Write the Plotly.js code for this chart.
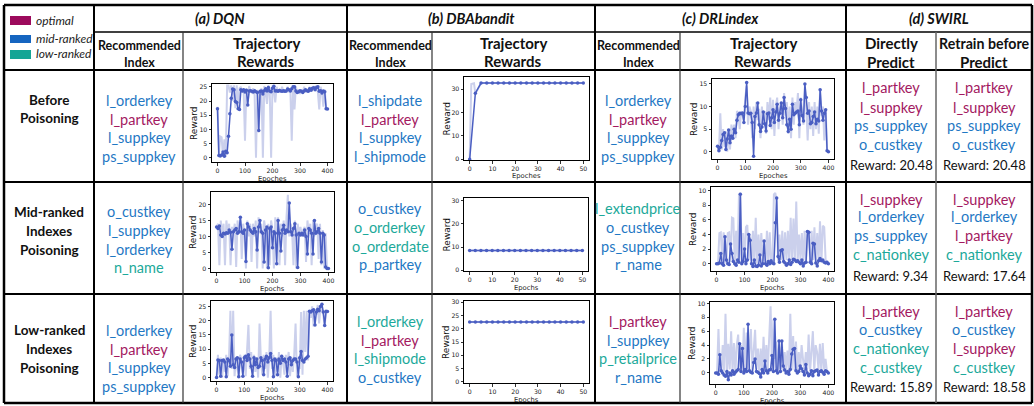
<!DOCTYPE html>
<html>
<head>
<meta charset="utf-8">
<script src="https://cdn.plot.ly/plotly-3.0.1.min.js"></script>
<style>
  html, body { margin: 0; padding: 0; background: #fff; }
  #chart { width: 1034px; height: 406px; }
</style>
</head>
<body>
<div id="chart"></div>
<script>
// ---------- reward trajectories ----------
const epochs = [0,5,10,15,20,25,30,35,40,45,50,55,60,65,70,75,80,85,90,95,100,105,110,115,120,125,130,135,140,145,150,155,160,165,170,175,180,185,190,195,200,205,210,215,220,225,230,235,240,245,250,255,260,265,270,275,280,285,290,295,300,305,310,315,320,325,330,335,340,345,350,355,360,365,370,375,380,385,390,395,400];
const banditEpochs = [0,2.5,5,7.5,10,12.5,15,17.5,20,22.5,25,27.5,30,32.5,35,37.5,40,42.5,45,47.5,50];

// DQN
const dqnBeforeSmooth = [17.3,0.8,0.6,1.0,2.0,0.5,2.3,1.8,7.6,15.5,
  21.0,24.2,24.0,19.8,19.5,17.3,17.0,24.0,23.5,24.0,
  23.2,23.8,18.6,23.5,23.6,23.4,23.2,23.6,23.3,23.0,
  9.6,23.4,23.5,22.5,23.6,24.3,23.5,24.8,23.5,23.3,
  24.5,25.2,23.5,23.6,23.4,23.7,23.5,23.4,23.6,23.4,
  23.5,24.2,24.0,23.5,24.3,25.0,25.0,23.5,23.0,23.3,
  23.6,23.4,23.0,23.5,24.0,23.6,23.4,24.3,23.8,24.5,
  24.7,24.0,24.8,25.0,23.4,23.6,22.8,23.5,23.3,17.3,
  17.2];
const dqnBeforeRaw = [18,1,7.5,7.2,0.3,6.5,0.5,25.5,25.5,23,
  25.5,20,25.5,17.5,25.5,17,24.5,25,23,24,
  6,24.5,19.5,25.3,23.5,23,24.5,22,0,24,
  9,23,24.5,0,25.3,23,19,25.5,23,0,
  25.5,24,19.5,25,23,24,23.5,25,23,24,
  23,25,23.5,24,6,25.5,17,25,23,24,
  22.5,24,23,25,23.5,24,23,25,24,23.5,
  25.3,24,25.5,23,17,25,23,18,24,17.5,
  17];
const dqnMidSmooth = [13.0,12.5,13.3,10.5,10.0,11.0,10.8,11.2,11.0,12.0,
  11.3,6.0,11.5,12.0,12.5,11.0,11.5,16.0,11.5,11.0,
  12.0,2.2,14.0,13.0,12.0,11.5,11.0,12.5,11.5,5.8,
  13.0,15.0,11.5,11.0,2.0,12.0,13.0,0.2,12.5,13.0,
  6.5,11.5,11.0,1.5,15.0,11.0,5.5,12.0,13.5,11.0,
  12.0,11.5,20.5,11.5,10.5,12.5,14.0,10.5,0.3,11.0,
  10.5,11.0,10.5,12.0,10.0,4.5,12.5,12.0,11.0,4.5,
  15.0,11.0,11.5,12.5,11.0,2.0,11.0,10.5,0.5,0.0,
  0.0];
const dqnMidRaw = [13,14,1,15,10,14,1,15,11,14,
  1,13,11,14,0.5,15,11,16,3,14,
  11,0,15,10,14,2,14,10,15,0,
  16,11,14,0,15,12,0,14,1,15,
  12,0,16,11,16,1,14,10,15,1,
  16,23,10,14,12,1,15,0,14,11,
  13,10,12,13,2,15,11,14,1,15,
  10,13,14,3,14,1,12,0,11,0,
  0];
const dqnLowSmooth = [0.0,6.2,6.0,0.5,6.0,6.2,5.5,0.3,6.5,6.0,
  4.0,15.0,4.5,3.5,6.5,7.0,0.3,6.5,5.5,0.5,
  7.0,7.5,6.0,8.0,6.5,4.0,0.5,7.0,4.5,6.5,
  3.5,4.0,7.0,6.0,1.0,6.5,7.5,5.5,7.0,8.5,
  6.0,0.3,6.5,6.0,1.0,6.5,5.0,7.5,6.0,6.5,
  5.5,0.5,6.5,7.0,4.5,6.0,6.5,6.5,5.5,0.3,
  7.0,9.2,6.0,5.5,6.5,7.0,7.5,23.3,23.0,23.5,
  23.8,18.5,23.0,24.0,23.5,25.0,25.8,23.0,18.3,23.3,
  23.2];
const dqnLowRaw = [0,8,1,7,0,6,2,8,0.5,7,
  23.5,3,23.5,0.5,7,4,0,8,6,1,
  8,0.5,9,18.5,3,9,0.5,8,2,7,
  0,19,6,1,8,3,9,0,7,23.5,
  3,8,0.5,7,2,9,0,8,5,1,
  8,4,9,0.5,7,2,8,19,0.5,7,
  3,23,1,23.5,9,23.5,6,23.5,21,25,
  18,24,22,25.5,19,25,24,22,18,23.5,
  23];

// DBAbandit
const banditBeforeSmooth = [0,28.3,32.6,32.6,32.6,32.6,32.6,32.6,32.6,32.6,32.6,32.6,32.6,32.6,32.6,32.6,32.6,32.6,32.6,32.6,32.6];
const banditBeforeRawEpochs = [0,0.7,1.9,2.5,5,50];
const banditBeforeRaw = [0,32.2,32.5,28,32.6,32.6];
const banditMidSmooth = [8.5,8.5,8.5,8.5,8.5,8.5,8.5,8.5,8.5,8.5,8.5,8.5,8.5,8.5,8.5,8.5,8.5,8.5,8.5,8.5,8.5];
const banditLowSmooth = [22.5,22.5,22.5,22.5,22.5,22.5,22.5,22.5,22.5,22.5,22.5,22.5,22.5,22.5,22.5,22.5,22.5,22.5,22.5,22.5,22.5];

// DRLindex
const drlBeforeSmooth = [1.2,0.2,1.0,2.5,3.8,4.2,0.5,2.8,4.8,2.0,
  3.5,3.0,5.0,4.2,7.0,8.2,8.5,8.4,8.6,6.5,
  10.0,15.3,8.6,8.4,8.5,6.5,-1.0,7.8,8.6,10.8,
  6.0,4.5,5.5,8.8,6.2,4.6,8.4,8.6,5.8,7.5,
  9.3,6.5,8.8,10.5,7.0,8.5,10.8,7.5,12.0,9.6,
  6.0,4.5,7.2,5.0,10.5,8.2,8.5,8.8,9.0,6.0,
  11.5,8.0,6.8,15.0,12.0,8.5,9.0,6.2,6.5,7.8,
  8.8,6.2,7.2,6.8,13.7,9.0,7.0,8.5,9.3,0.2,
  0.0];
const drlBeforeRaw = [1.5,0,8.5,0.5,5,1,4.5,0,5,0.5,
  6,4,6,3,9,8.5,5,9,8,7,
  12,14.5,6,10,9,3,10,5,11,7,
  9.5,3,10,6,9,4,11,7,12,5,
  11.5,3.5,10,12,5,10,11,6,13,8,
  11,4,10,3,12,6,11,9,13,3,
  12,9,6,14.5,10,2.5,11,5,10,3.5,
  11,5,10,4,14,8,10,2.5,9.5,0.5,
  0];
const drlMidSmooth = [0.0,0.0,0.1,1.4,0.0,-0.2,3.7,0.5,0.0,-0.1,
  2.7,1.4,0.3,0.0,-0.2,0.5,0.2,9.5,0.0,0.3,
  2.0,0.0,0.5,4.0,3.2,0.0,-0.4,0.5,-0.3,-0.4,
  -0.2,1.2,-0.3,0.0,3.1,0.0,-0.2,0.3,0.0,0.4,
  0.1,0.0,5.6,9.0,1.0,0.2,1.8,1.9,0.3,0.1,
  -0.2,0.0,0.5,-0.1,0.2,0.6,0.5,0.3,0.4,0.2,
  0.0,0.5,-0.3,0.1,0.2,4.4,4.3,0.2,0.0,2.8,
  2.7,0.1,-0.3,0.4,0.7,0.4,0.5,0.2,0.1,0.2,
  0.0];
const drlMidRaw = [0,0,4.2,4.3,0.5,4.3,3.0,0,4.2,4.3,
  0.2,6.3,6.2,0,4.5,0.5,9.5,9.7,0.3,4.2,
  0.5,5.0,5.3,0.5,4.0,0,4.5,0.2,6.3,0,
  4.0,0.5,4.2,0.3,3.0,0,4.5,0.2,4.3,0,
  0.5,9.5,9.7,8.5,0.3,4.0,0.5,4.5,0,4.3,
  0.5,4.5,0.2,6.3,0.5,6.2,0.5,8.5,0.3,4.0,
  0.5,4.2,0,4.5,0.3,4.0,4.5,0,4.5,0.5,
  5.0,0,4.2,0.5,5.8,0.3,5.2,5.0,0.5,0.2,
  0];
const drlLowSmooth = [0.0,0.0,-0.2,2.6,0.3,0.0,-0.3,-0.5,0.2,-1.0,
  0.0,-0.3,0.3,-0.2,0.1,0.3,0.5,4.2,0.2,3.5,
  0.0,0.5,0.2,7.0,0.3,0.1,0.0,1.5,2.0,0.2,
  0.1,-0.1,-0.6,0.5,0.0,1.7,0.3,0.0,0.4,0.5,
  2.5,0.2,7.7,0.3,0.0,4.6,0.2,4.6,1.0,0.4,
  0.0,0.2,-0.2,0.5,2.7,3.4,3.5,0.3,0.0,0.2,
  1.0,0.6,0.2,-0.3,1.2,0.0,-0.4,-0.2,0.3,-0.4,
  0.2,0.3,0.4,-0.3,0.2,0.3,0.1,-0.2,0.3,0.2,
  0.0];
const drlLowRaw = [0,0,6.3,0.5,0,4.0,0.2,8.5,0,4.2,
  0.5,6.0,0.2,4.3,0,4.0,5.5,0.3,4.0,0.2,
  6.5,0,5.8,0.5,3.5,6.3,0.2,4.0,6.2,0.5,
  3.5,0,3.5,0.3,5.2,0.2,4.0,0.5,5.5,9.6,
  0.5,7.7,2.0,4.5,0.3,4.8,0.5,4.7,0.2,3.0,
  0.5,3.2,0.3,8.5,0.5,5.3,0.4,4.5,0.2,3.0,
  0.5,4.0,2.0,0.3,3.0,0.5,5.5,0.2,3.0,6.0,
  0.3,4.0,3.0,0.5,4.2,0.2,4.3,0.5,2.0,0.2,
  0];

// ---------- recommended indexes (rows: before / mid-ranked / low-ranked poisoning) ----------
const dqnIndexes = [['l_orderkey','l_partkey','l_suppkey','ps_suppkey'],
                    ['o_custkey','l_suppkey','l_orderkey','n_name'],
                    ['l_orderkey','l_partkey','l_suppkey','ps_suppkey']];
const dqnRanks = [['mid','optimal','mid','mid'],['mid','mid','mid','low'],['mid','optimal','mid','mid']];
const banditIndexes = [['l_shipdate','l_partkey','l_suppkey','l_shipmode'],
                       ['o_custkey','o_orderkey','o_orderdate','p_partkey'],
                       ['l_orderkey','l_partkey','l_shipmode','o_custkey']];
const banditRanks = [['mid','optimal','mid','mid'],['mid','low','low','mid'],['low','optimal','low','mid']];
const drlIndexes = [['l_orderkey','l_partkey','l_suppkey','ps_suppkey'],
                    ['l_extendprice','o_custkey','ps_suppkey','r_name'],
                    ['l_partkey','l_suppkey','p_retailprice','r_name']];
const drlRanks = [['mid','optimal','mid','mid'],['low','mid','mid','mid'],['optimal','mid','low','mid']];
const swirlDirectIndexes = [['l_partkey','l_suppkey','ps_suppkey','o_custkey'],
                            ['l_suppkey','l_orderkey','ps_suppkey','c_nationkey'],
                            ['l_partkey','o_custkey','c_nationkey','c_custkey']];
const swirlDirectRanks = [['optimal','optimal','mid','mid'],['optimal','mid','mid','low'],['optimal','mid','low','low']];
const swirlRetrainIndexes = [['l_partkey','l_suppkey','ps_suppkey','o_custkey'],
                             ['l_suppkey','l_orderkey','l_partkey','c_nationkey'],
                             ['l_partkey','o_custkey','l_suppkey','c_custkey']];
const swirlRetrainRanks = [['optimal','optimal','mid','mid'],['optimal','mid','optimal','low'],['optimal','mid','optimal','low']];
const swirlDirectRewards = [20.48, 9.34, 15.89];
const swirlRetrainRewards = [20.48, 17.64, 18.58];

const rowLabels = [['Before','Poisoning'],['Mid-ranked','Indexes','Poisoning'],['Low-ranked','Indexes','Poisoning']];
const methodTitles = ['(a) DQN','(b) DBAbandit','(c) DRLindex','(d) SWIRL'];
const legendLabels = ['optimal','mid-ranked','low-ranked'];

// ---------- styling ----------
const W = 1034, H = 406;
const px = x => x / W;
const py = y => 1 - y / H;
const rankColor = {optimal: '#a3195f', mid: '#1f78c4', low: '#1ca99a'};
const swatchColor = ['#9c0a5c', '#1565c0', '#14a595'];
const TXT = 'Lato, "Open Sans", sans-serif';
const MPL = '"DejaVu Sans", sans-serif';
const SMOOTH = '#4a5ec2';
const RAW = '#cbd0ec';

// one entry per embedded trajectory plot
const panels = [
  {box:[212,333,84,162],  xs:epochs, raw:dqnBeforeRaw, rawX:epochs, smooth:dqnBeforeSmooth, xr:[-20,420], yr:[-1.5,26], dy:5, xt:[0,100,200,300,400], xl:'Epoches'},
  {box:[211,334,192,272], xs:epochs, raw:dqnMidRaw, rawX:epochs, smooth:dqnMidSmooth, xr:[-20,420], yr:[-1.1,23.9], dy:5, xt:[0,100,200,300,400], xl:'Epochs'},
  {box:[211,333,301,381], xs:epochs, raw:dqnLowRaw, rawX:epochs, smooth:dqnLowSmooth, xr:[-20,420], yr:[-1.2,26.9], dy:5, xt:[0,100,200,300,400], xl:'Epochs'},
  {box:[464,589,77,160],  xs:banditEpochs, raw:banditBeforeRaw, rawX:banditBeforeRawEpochs, smooth:banditBeforeSmooth, xr:[-2.5,52.5], yr:[-0.3,35.2], dy:10, xt:[0,10,20,30,40,50], xl:'Epoches'},
  {box:[464,588,198,271], xs:banditEpochs, raw:banditMidSmooth, rawX:banditEpochs, smooth:banditMidSmooth, xr:[-2.5,52.5], yr:[-0.3,31.2], dy:10, xt:[0,10,20,30,40,50], xl:'Epochs'},
  {box:[464,589,301,383], xs:banditEpochs, raw:banditLowSmooth, rawX:banditEpochs, smooth:banditLowSmooth, xr:[-2.5,52.5], yr:[-0.4,30.4], dy:5, xt:[0,10,20,30,40,50], xl:'Epochs'},
  {box:[712,834,79,159],  xs:epochs, raw:drlBeforeRaw, rawX:epochs, smooth:drlBeforeSmooth, xr:[-20,420], yr:[-1.6,16.1], dy:5, xt:[0,100,200,300,400], xl:'Epoches'},
  {box:[711,834,187,271], xs:epochs, raw:drlMidRaw, rawX:epochs, smooth:drlMidSmooth, xr:[-20,420], yr:[-1.0,10.5], dy:2, xt:[0,100,200,300,400], xl:'Epochs'},
  {box:[710,834,302,384], xs:epochs, raw:drlLowRaw, rawX:epochs, smooth:drlLowSmooth, xr:[-20,420], yr:[-1.6,10.2], dy:2, xt:[0,100,200,300,400], xl:'Epochs'}
];

const traces = [];
const layout = {
  width: W, height: H,
  margin: {l:0, r:0, t:0, b:0},
  paper_bgcolor: '#fff', plot_bgcolor: '#fff',
  showlegend: false,
  shapes: [], annotations: []
};

function text(str, x, y, size, color, opts) {
  layout.annotations.push(Object.assign({
    text:str, xref:'paper', yref:'paper', x:px(x), y:py(y), showarrow:false,
    xanchor:'center', yanchor:'middle',
    font:{family:TXT, size:size, color:color || '#111'}
  }, opts || {}));
}

panels.forEach((p, i) => {
  const s = i === 0 ? '' : String(i + 1);
  traces.push({x:p.rawX, y:p.raw, xaxis:'x'+s, yaxis:'y'+s, type:'scatter', mode:'lines',
               line:{color:RAW, width:2}, hoverinfo:'skip'});
  traces.push({x:p.xs, y:p.smooth, xaxis:'x'+s, yaxis:'y'+s, type:'scatter', mode:'lines+markers',
               line:{color:SMOOTH, width:1.5}, marker:{color:SMOOTH, size:3.5}, hoverinfo:'skip'});
  const common = {
    showline:true, mirror:true, linecolor:'#000', linewidth:1,
    ticks:'outside', ticklen:2.5, tickwidth:0.8, tickcolor:'#000',
    showgrid:false, zeroline:false, fixedrange:true,
    tickfont:{family:MPL, size:6.2, color:'#222'}
  };
  layout['xaxis'+s] = Object.assign({}, common, {
    domain:[px(p.box[0]), px(p.box[1])], anchor:'y'+s, range:p.xr,
    tickmode:'array', tickvals:p.xt
  });
  layout['yaxis'+s] = Object.assign({}, common, {
    domain:[py(p.box[3]), py(p.box[2])], anchor:'x'+s, range:p.yr,
    tickmode:'linear', tick0:0, dtick:p.dy
  });
  // axis titles sit just under the tick labels / left of them
  const cx = (p.box[0] + p.box[1]) / 2, cy = (p.box[2] + p.box[3]) / 2;
  text(p.xl, cx, p.box[3] + 16.5, 7, '#222', {font:{family:MPL, size:6.8, color:'#222'}});
  text('Reward', p.box[0] - 18, cy, 9, '#111', {textangle:-90, font:{family:MPL, size:9, color:'#111'}});
});

// ---------- table grid ----------
function hline(y, x0, x1, w, c) {
  layout.shapes.push({type:'line', xref:'paper', yref:'paper', x0:px(x0), x1:px(x1), y0:py(y), y1:py(y),
                      line:{color:c || '#000', width:w}});
}
function vline(x, y0, y1, w, c) {
  layout.shapes.push({type:'line', xref:'paper', yref:'paper', x0:px(x), x1:px(x), y0:py(y0), y1:py(y1),
                      line:{color:c || '#000', width:w}});
}
hline(5, 4, 1032, 2.5); hline(403, 4, 1032, 2.5);
vline(4, 5, 403, 2.5); vline(1032, 5, 403, 2.5);
hline(32, 94, 1032, 1.5);
hline(70, 4, 1032, 1.8); hline(182, 4, 1032, 1.8); hline(294, 4, 1032, 1.8);
[94, 347, 595, 846].forEach(x => vline(x, 5, 403, 2));
[183, 432, 680].forEach(x => vline(x, 32, 403, 1.2, '#333'));
vline(936, 32, 403, 1.5, '#666');

// ---------- text ----------
// legend
const swatchY = [[16,25],[35,43],[50,59]];
const legendY = [20, 38, 54];
legendLabels.forEach((lab, i) => {
  layout.shapes.push({type:'rect', xref:'paper', yref:'paper', x0:px(10), x1:px(31),
                      y0:py(swatchY[i][1]), y1:py(swatchY[i][0]), line:{width:0}, fillcolor:swatchColor[i]});
  text('<i>' + lab + '</i>', 34, legendY[i], 12, '#222', {xanchor:'left'});
});

// group titles
const groupCenters = [220, 471, 720, 939];
methodTitles.forEach((t, i) => text('<b><i>' + t + '</i></b>', groupCenters[i], 18, 14.5, '#111'));

// column headers
[139, 390, 638].forEach(x => {
  text('<b>Recommended</b>', x, 46, 12.5);
  text('<b>Index</b>', x, 62, 12.5);
});
[266, 513, 763].forEach(x => {
  text('<b>Trajectory</b>', x, 43, 15);
  text('<b>Rewards</b>', x, 61, 15);
});
text('<b>Directly</b>', 891, 43, 15); text('<b>Predict</b>', 891, 62, 15);
text('<b>Retrain before</b>', 984, 43, 14.2); text('<b>Predict</b>', 984, 62, 15);

// row labels
const rowLabelY = [[100,118],[212,231,250],[330,349,368]];
rowLabels.forEach((lines, r) => lines.forEach((l, k) => text('<b>' + l + '</b>', 49, rowLabelY[r][k], 13.5)));

// index lists
function indexCell(names, ranks, x, ys) {
  names.forEach((n, k) => text(n, x, ys[k], 14.5, rankColor[ranks[k]]));
}
const cellY = [[100,119,137,156],[208,227,246,264],[321,340,358,377]];
const dqnCellY = [[100,119,137,156],[211,230,249,267],[330,349,367,386]];
const swirlY = [[88,107,125,144],[199,217,235,254],[311,329,348,367]];
const swirlRewardY = [165, 276, 387];
for (let r = 0; r < 3; r++) {
  indexCell(dqnIndexes[r], dqnRanks[r], 139, dqnCellY[r]);
  indexCell(banditIndexes[r], banditRanks[r], 390, cellY[r]);
  indexCell(drlIndexes[r], drlRanks[r], 638, cellY[r]);
  indexCell(swirlDirectIndexes[r], swirlDirectRanks[r], 891, swirlY[r]);
  indexCell(swirlRetrainIndexes[r], swirlRetrainRanks[r], 984, swirlY[r]);
  text('Reward: ' + swirlDirectRewards[r].toFixed(2), 891, swirlRewardY[r], 13, '#111');
  text('Reward: ' + swirlRetrainRewards[r].toFixed(2), 984, swirlRewardY[r], 13, '#111');
}

Plotly.newPlot('chart', traces, layout, {displayModeBar:false, staticPlot:true});
</script>
</body>
</html>
